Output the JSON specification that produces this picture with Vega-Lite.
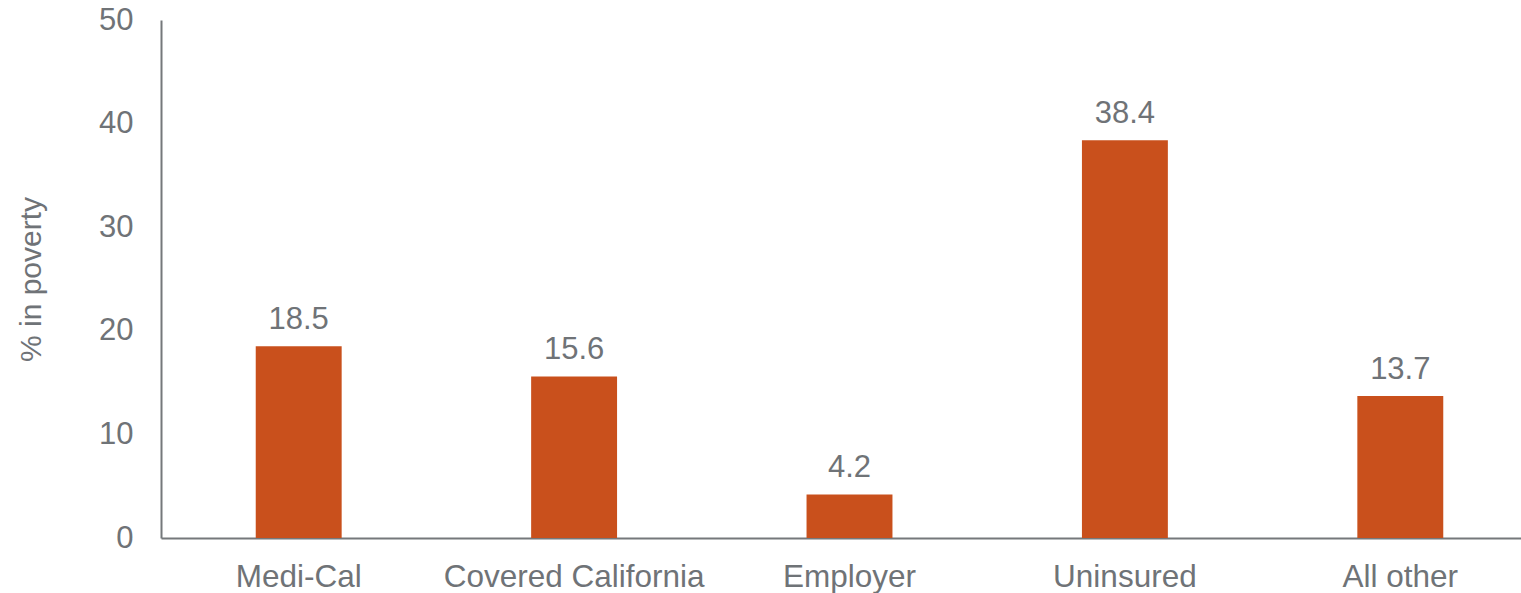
{
  "$schema": "https://vega.github.io/schema/vega-lite/v6.json",
  "autosize": "none",
  "width": 1377,
  "height": 518,
  "padding": {"left": 161, "top": 20, "right": 0, "bottom": 55},
  "background": "white",
  "config": {
    "view": {"stroke": null},
    "font": "Liberation Sans",
    "text": {"font": "Liberation Sans"}
  },
  "data": {
    "values": [
      {"category": "Medi-Cal", "value": 18.5},
      {"category": "Covered California", "value": 15.6},
      {"category": "Employer", "value": 4.2},
      {"category": "Uninsured", "value": 38.4},
      {"category": "All other", "value": 13.7}
    ]
  },
  "encoding": {
    "x": {
      "field": "category",
      "type": "nominal",
      "sort": null,
      "scale": {"paddingInner": 0.688, "paddingOuter": 0.344},
      "axis": {
        "title": null,
        "labelAngle": 0,
        "labelLimit": 0,
        "labelFont": "Liberation Sans",
        "labelFontSize": 31.5,
        "labelColor": "#6f7377",
        "labelPadding": 23,
        "ticks": false,
        "domainColor": "#75787b",
        "domainWidth": 2
      }
    },
    "y": {
      "field": "value",
      "type": "quantitative",
      "scale": {"domain": [0, 50]},
      "axis": {
        "values": [0, 10, 20, 30, 40, 50],
        "title": "% in poverty",
        "titleFont": "Liberation Sans",
        "titleFontSize": 30,
        "titleFontWeight": "normal",
        "titleColor": "#6f7377",
        "titlePadding": 52,
        "labelFont": "Liberation Sans",
        "labelFontSize": 31,
        "labelColor": "#6f7377",
        "labelPadding": 28,
        "ticks": false,
        "grid": false,
        "domainColor": "#75787b",
        "domainWidth": 2
      }
    }
  },
  "layer": [
    {"mark": {"type": "bar", "color": "#C9501C"}},
    {
      "mark": {"type": "text", "baseline": "alphabetic", "dy": -17, "fontSize": 31, "color": "#6f7377", "font": "Liberation Sans"},
      "encoding": {"text": {"field": "value", "type": "quantitative", "format": ".1f"}}
    }
  ]
}
